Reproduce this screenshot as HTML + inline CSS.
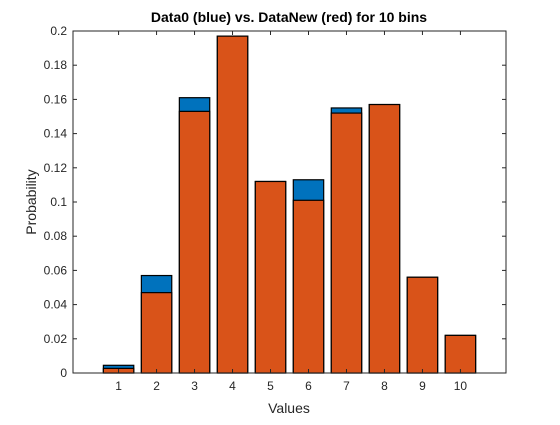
<!DOCTYPE html>
<html><head><meta charset="utf-8"><style>
body{margin:0;background:#fff;}
svg text{font-family:"Liberation Sans",Arial,sans-serif;}
</style></head><body>
<svg id="chart" width="560" height="420" viewBox="0 0 560 420">
<rect width="560" height="420" fill="#fff"/>
<g id="bars"></g>
<g id="axes"></g>
<text x="289" y="22" text-anchor="middle" font-size="14" font-weight="bold" fill="#000">Data0 (blue) vs. DataNew (red) for 10 bins</text>
<text x="289" y="413" text-anchor="middle" font-size="14" fill="#262626">Values</text>
<text transform="translate(36,202) rotate(-90)" text-anchor="middle" font-size="14" fill="#262626">Probability</text>
</svg>
<script>
const categories=[1,2,3,4,5,6,7,8,9,10];
const data0=[0.0045,0.057,0.161,0.197,0.112,0.113,0.155,0.157,0.056,0.022];
const dataNew=[0.0027,0.047,0.153,0.197,0.112,0.101,0.152,0.157,0.056,0.022];
const yTicks=[0,0.02,0.04,0.06,0.08,0.1,0.12,0.14,0.16,0.18,0.2];
const yTickLabels=["0","0.02","0.04","0.06","0.08","0.1","0.12","0.14","0.16","0.18","0.2"];
const xTicks=[1,2,3,4,5,6,7,8,9,10];

const L=73,R=506,T=31,B=373;
const xMin=-0.2,xMax=11.2,yMin=0,yMax=0.2;
const sx=v=>L+(v-xMin)/(xMax-xMin)*(R-L);
const sy=v=>B-(v-yMin)/(yMax-yMin)*(B-T);
const NS="http://www.w3.org/2000/svg";
const bars=document.getElementById('bars');
const axes=document.getElementById('axes');
function mk(tag,attrs,parent){const e=document.createElementNS(NS,tag);for(const k in attrs)e.setAttribute(k,attrs[k]);parent.appendChild(e);return e;}
const bw=0.8;
function drawSeries(vals,color,name){
  vals.forEach((v,i)=>{
    const x0=sx(categories[i]-bw/2),x1=sx(categories[i]+bw/2);
    const r=mk('rect',{x:x0,y:sy(v),width:x1-x0,height:sy(0)-sy(v),fill:color,stroke:'#000','stroke-width':1.2},bars);
    
    
  });
}
drawSeries(data0,'#0072bd','data0');
drawSeries(dataNew,'#d95319','datanew');

const box=mk('rect',{x:L,y:T,width:R-L,height:B-T,fill:'none',stroke:'#262626','stroke-width':1},axes);


yTicks.forEach((v,i)=>{
  const y=sy(v);
  const t=mk('line',{x1:L,x2:L+4,y1:y,y2:y,stroke:'#262626'},axes);
  
  
  const t2=mk('line',{x1:R,x2:R-4,y1:y,y2:y,stroke:'#262626'},axes);
  
  
  const lb=mk('text',{x:L-6,y:y+4,'text-anchor':'end','font-size':12,fill:'#262626'},axes);
  lb.textContent=yTickLabels[i];
  
  
});
xTicks.forEach(v=>{
  const x=sx(v);
  const t=mk('line',{x1:x,x2:x,y1:B,y2:B-4,stroke:'#262626'},axes);
  
  
  const t2=mk('line',{x1:x,x2:x,y1:T,y2:T+4,stroke:'#262626'},axes);
  
  
  const lb=mk('text',{x:x,y:B+17,'text-anchor':'middle','font-size':12,fill:'#262626'},axes);
  lb.textContent=String(v);
  
  
});
</script>
</body></html>
